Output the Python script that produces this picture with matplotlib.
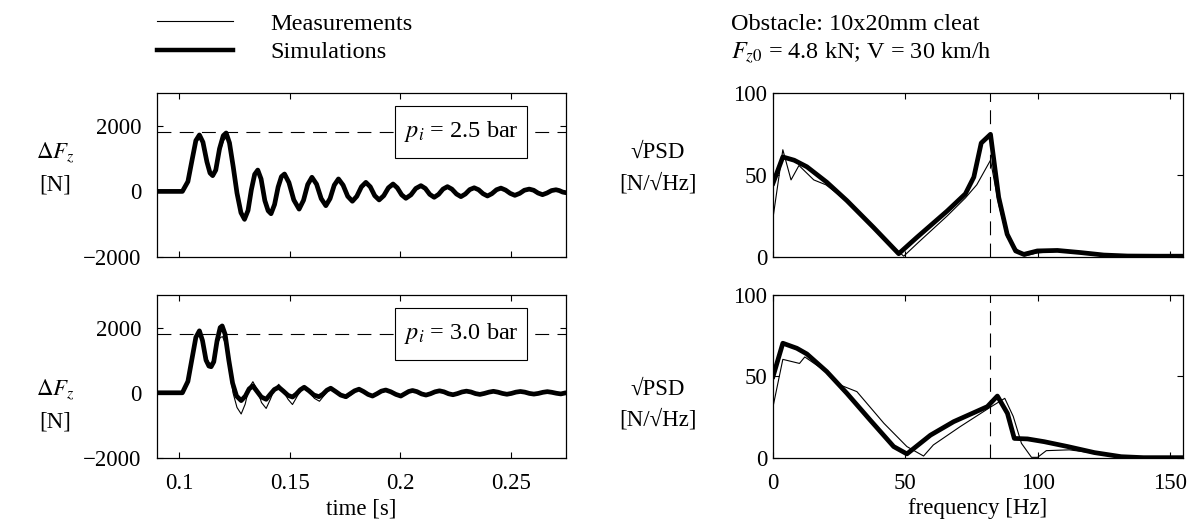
import matplotlib
matplotlib.use("Agg")
import matplotlib.pyplot as plt
from matplotlib.lines import Line2D
from matplotlib.patches import Rectangle

plt.rcParams['font.family'] = ['Liberation Serif', 'DejaVu Serif']
plt.rcParams['mathtext.fontset'] = 'stix'
plt.rcParams['font.size'] = 16.5
plt.rcParams['lines.scale_dashes'] = False

# ---- time signals, pi = 2.5 bar ----
t_sim_25 = [0.0900, 0.1015, 0.1040, 0.1060, 0.1076, 0.1092, 0.1108, 0.1126, 0.1140, 0.1152,
            0.1166, 0.1183, 0.1200, 0.1213, 0.1228, 0.1245, 0.1262, 0.1280, 0.1296, 0.1312,
            0.1327, 0.1342, 0.1356, 0.1371, 0.1388, 0.1403, 0.1416, 0.1432, 0.1448, 0.1463,
            0.1477, 0.1497, 0.1519, 0.1543, 0.1563, 0.1582, 0.1601, 0.1622, 0.1643, 0.1664,
            0.1683, 0.1702, 0.1721, 0.1742, 0.1763, 0.1784, 0.1804, 0.1825, 0.1845, 0.1865,
            0.1885, 0.1905, 0.1926, 0.1947, 0.1968, 0.1987, 0.2007, 0.2026, 0.2049, 0.2071,
            0.2094, 0.2114, 0.2134, 0.2154, 0.2174, 0.2194, 0.2214, 0.2234, 0.2255, 0.2275,
            0.2295, 0.2315, 0.2335, 0.2355, 0.2375, 0.2395, 0.2415, 0.2436, 0.2456, 0.2477,
            0.2498, 0.2519, 0.2541, 0.2562, 0.2584, 0.2604, 0.2624, 0.2644, 0.2664, 0.2685,
            0.2705, 0.2720, 0.2735, 0.2750]
f_sim_25 = [0, 0, 300, 1000, 1550, 1720, 1500, 900, 560, 480,
            650, 1300, 1700, 1780, 1480, 750, -50, -650, -850, -580,
            50, 520, 650, 380, -280, -590, -680, -400, 130, 450,
            530, 270, -260, -540, -270, 210, 430, 220, -220, -435,
            -220, 190, 380, 190, -150, -300, -150, 140, 275, 140,
            -130, -260, -130, 110, 225, 110, -105, -210, -105, 90,
            175, 90, -90, -180, -90, 70, 145, 70, -80, -160,
            -80, 55, 110, 50, -70, -140, -70, 50, 100, 40,
            -60, -120, -60, 35, 70, 35, -50, -100, -50, 25,
            50, 25, -20, -40]

t_meas_25 = [0.0900, 0.1018, 0.1042, 0.1062, 0.1078, 0.1094, 0.1110, 0.1127, 0.1141, 0.1153,
             0.1167, 0.1184, 0.1201, 0.1215, 0.1230, 0.1247, 0.1264, 0.1282, 0.1298, 0.1314,
             0.1329, 0.1344, 0.1358, 0.1373, 0.1390, 0.1405, 0.1418, 0.1434, 0.1450, 0.1465,
             0.1479, 0.1499, 0.1521, 0.1545, 0.1565, 0.1584, 0.1603, 0.1624, 0.1645, 0.1666,
             0.1685, 0.1704, 0.1723, 0.1744, 0.1765, 0.1786, 0.1806, 0.1827, 0.1847, 0.1867,
             0.1887, 0.1907, 0.1928, 0.1949, 0.1970, 0.1989, 0.2009, 0.2028, 0.2051, 0.2073,
             0.2096, 0.2116, 0.2136, 0.2156, 0.2176, 0.2196, 0.2216, 0.2236, 0.2257, 0.2277,
             0.2297, 0.2317, 0.2337, 0.2357, 0.2377, 0.2397, 0.2417, 0.2438, 0.2458, 0.2479,
             0.2500, 0.2521, 0.2543, 0.2564, 0.2586, 0.2606, 0.2626, 0.2646, 0.2666, 0.2687,
             0.2707, 0.2722, 0.2737, 0.2750]
f_meas_25 = [0, 0, 300, 1000, 1500, 1650, 1450, 900, 580, 500,
             650, 1200, 1550, 1650, 1450, 750, -100, -720, -900, -600,
             50, 500, 620, 360, -280, -600, -700, -400, 120, 430,
             500, 250, -270, -560, -280, 190, 390, 200, -230, -450,
             -230, 160, 330, 160, -160, -320, -160, 110, 230, 110,
             -140, -280, -140, 80, 170, 80, -110, -230, -115, 60,
             130, 60, -95, -190, -95, 45, 100, 45, -85, -170,
             -85, 35, 70, 30, -75, -150, -75, 25, 60, 20,
             -65, -130, -65, 15, 40, 15, -55, -110, -55, 10,
             25, 0, -30, -50]

# ---- time signals, pi = 3.0 bar ----
t_sim_30 = [0.0900, 0.1015, 0.1040, 0.1060, 0.1076, 0.1092, 0.1106, 0.1122, 0.1135, 0.1145,
            0.1157, 0.1172, 0.1186, 0.1195, 0.1208, 0.1225, 0.1242, 0.1260, 0.1281, 0.1300,
            0.1317, 0.1334, 0.1352, 0.1372, 0.1394, 0.1412, 0.1431, 0.1451, 0.1472, 0.1493,
            0.1513, 0.1530, 0.1548, 0.1566, 0.1588, 0.1610, 0.1633, 0.1651, 0.1669, 0.1686,
            0.1708, 0.1731, 0.1754, 0.1774, 0.1794, 0.1814, 0.1834, 0.1855, 0.1875, 0.1895,
            0.1915, 0.1935, 0.1958, 0.1981, 0.2003, 0.2021, 0.2039, 0.2056, 0.2076, 0.2097,
            0.2117, 0.2137, 0.2158, 0.2178, 0.2198, 0.2219, 0.2239, 0.2259, 0.2280, 0.2300,
            0.2320, 0.2341, 0.2361, 0.2381, 0.2402, 0.2422, 0.2442, 0.2463, 0.2483, 0.2503,
            0.2524, 0.2544, 0.2564, 0.2585, 0.2605, 0.2625, 0.2646, 0.2666, 0.2686, 0.2707,
            0.2727, 0.2750]
f_sim_30 = [0, 0, 350, 1100, 1700, 1900, 1600, 1000, 820, 800,
            950, 1600, 2000, 2050, 1800, 1000, 300, -100, -240, -100,
            120, 210, 50, -130, -200, -50, 100, 170, 50, -80,
            -130, -40, 90, 170, 60, -70, -120, -40, 80, 140,
            40, -70, -120, -30, 60, 110, 40, -50, -100, -30,
            50, 85, 30, -50, -100, -30, 40, 70, 35, -35,
            -70, -30, 30, 60, 30, -30, -60, -25, 25, 50,
            25, -25, -50, -20, 20, 45, 20, -20, -45, -20,
            20, 40, 20, -20, -40, -20, 15, 35, 15, -15,
            -35, 0]

t_meas_30 = [0.0900, 0.1018, 0.1042, 0.1062, 0.1078, 0.1093, 0.1107, 0.1122, 0.1135, 0.1146,
             0.1158, 0.1173, 0.1187, 0.1197, 0.1210, 0.1227, 0.1244, 0.1262, 0.1281, 0.1299,
             0.1316, 0.1334, 0.1353, 0.1373, 0.1394, 0.1413, 0.1432, 0.1451, 0.1472, 0.1493,
             0.1513, 0.1531, 0.1549, 0.1568, 0.1590, 0.1612, 0.1635, 0.1653, 0.1671, 0.1689,
             0.1711, 0.1734, 0.1757, 0.1777, 0.1797, 0.1817, 0.1837, 0.1858, 0.1878, 0.1898,
             0.1918, 0.1938, 0.1961, 0.1984, 0.2006, 0.2024, 0.2042, 0.2059, 0.2080, 0.2100,
             0.2120, 0.2140, 0.2160, 0.2181, 0.2201, 0.2221, 0.2242, 0.2262, 0.2282, 0.2303,
             0.2323, 0.2343, 0.2364, 0.2384, 0.2404, 0.2425, 0.2445, 0.2465, 0.2486, 0.2506,
             0.2526, 0.2547, 0.2567, 0.2587, 0.2608, 0.2628, 0.2648, 0.2669, 0.2689, 0.2709,
             0.2730, 0.2750]
f_meas_30 = [0, -20, 300, 1050, 1650, 1850, 1600, 1100, 920, 900,
             1050, 1500, 1700, 1720, 1500, 800, 0, -450, -650, -350,
             150, 340, 100, -300, -480, -200, 120, 260, 50, -200,
             -360, -150, 80, 180, 20, -170, -260, -110, 50, 120,
             10, -110, -170, -70, 40, 90, 10, -80, -130, -50,
             30, 70, 10, -70, -110, -40, 30, 55, 0, -50,
             -80, -30, 20, 40, 0, -40, -60, -20, 20, 35,
             0, -30, -50, -15, 15, 30, 0, -25, -40, -10,
             15, 25, 0, -20, -35, -10, 15, 25, 0, -20,
             -30, -10]

# ---- sqrt PSD, pi = 2.5 bar ----
hz_sim_25 = [0, 3.7, 8, 12.8, 20.3, 27.9, 38, 47.5, 54.4, 65.8, 72.7, 75.9, 78.7, 82.2,
             85.3, 88.5, 91.7, 94.8, 99.9, 107.5, 116.3, 125, 134, 145, 155]
psd_sim_25 = [45, 61, 59, 55, 45.6, 34.4, 18, 2, 12, 28, 38.5, 48.7, 69.5, 74.8,
              36.4, 13.9, 3.7, 1.6, 3.7, 4, 2.7, 1.2, 0.6, 0.5, 0.5]
hz_meas_25 = [0, 3.7, 6.8, 9.8, 15.4, 20, 27.9, 38, 49.4, 55, 65.8, 72.7, 77, 82.2,
              85.3, 88.5, 91.7, 95, 99.9, 107.5, 116.3, 125, 134, 145, 155]
psd_meas_25 = [24, 65.4, 47, 55.8, 47, 44, 34, 17, 0.5, 9, 25, 36, 44, 59,
               32, 12, 5.5, 0.5, 2.5, 3.5, 2.5, 1, 0.5, 0.4, 0.3]

# ---- sqrt PSD, pi = 3.0 bar ----
hz_sim_30 = [0, 3.7, 9, 12.8, 20.3, 27.9, 36.7, 45.6, 50.6, 59.5, 68.3, 81, 84.8,
             88.6, 91.2, 96.2, 102.5, 111.4, 121.5, 131.6, 140, 155]
psd_sim_30 = [50, 70.4, 67.3, 63.8, 53, 39.7, 23.3, 7, 2.5, 14, 22.3, 31.5, 38,
              27.4, 12, 11.7, 10, 7, 3.3, 0.8, 0.2, 0.2]
hz_meas_30 = [0, 3.7, 10, 12, 20, 25, 31.7, 41.9, 50.6, 56.9, 60.6, 70.7, 82, 87.6,
              90.8, 93.9, 97.7, 100, 103.3, 112, 120, 131.6, 155]
psd_meas_30 = [31.5, 60.5, 58, 62, 53, 45, 40.7, 21.3, 7, 1.2, 8, 19.2, 31, 36.6,
               25.5, 9, 0.4, 0.4, 4.5, 5, 3.3, 0.8, 0.2]

pressures = ['2.5', '3.0']
force_ref = 1800      # dashed reference level [N]
freq_ref = 82         # dashed reference frequency [Hz]

fig = plt.figure(figsize=(12, 5.31), dpi=100)
ax_tl = fig.add_axes([0.1308, 0.516, 0.3408, 0.3089])
ax_bl = fig.add_axes([0.1308, 0.1375, 0.3408, 0.307])
ax_tr = fig.add_axes([0.6442, 0.516, 0.3417, 0.3089])
ax_br = fig.add_axes([0.6442, 0.1375, 0.3417, 0.307])

dash = (0, (10, 6))
thin = 0.8
thick = 3.4

for ax, ts, fs, tm, fm, p in [(ax_tl, t_sim_25, f_sim_25, t_meas_25, f_meas_25, pressures[0]),
                              (ax_bl, t_sim_30, f_sim_30, t_meas_30, f_meas_30, pressures[1])]:
    ax.axhline(force_ref, color='black', lw=0.8, ls=dash, zorder=1)
    ax.plot(tm, fm, color='black', lw=thin, zorder=3)
    ax.plot(ts, fs, color='black', lw=thick, zorder=2, solid_joinstyle='round',
            solid_capstyle='round')
    ax.set_xlim(0.09, 0.275)
    ax.set_ylim(-2000, 3000)
    ax.set_xticks([0.1, 0.15, 0.2, 0.25])
    ax.set_xticklabels(['0.1', '0.15', '0.2', '0.25'])
    ax.set_yticks([-2000, 0, 2000])
    ax.tick_params(axis='y', pad=11)
    # annotation box covering the dashed line
    ax.add_patch(Rectangle((0.582, 0.604), 0.3227, 0.317, transform=ax.transAxes,
                           fc='white', ec='black', lw=0.8, zorder=4))
    ax.text(0.7434, 0.7625, r'$p_i$' + ' = ' + p + ' bar', transform=ax.transAxes,
            ha='center', va='center', fontsize=17.5, zorder=5)

for ax, hs, ps, hm, pm in [(ax_tr, hz_sim_25, psd_sim_25, hz_meas_25, psd_meas_25),
                           (ax_br, hz_sim_30, psd_sim_30, hz_meas_30, psd_meas_30)]:
    ax.axvline(freq_ref, color='black', lw=0.8, ls=dash, zorder=1)
    ax.plot(hm, pm, color='black', lw=thin, zorder=3)
    ax.plot(hs, ps, color='black', lw=thick, zorder=2, solid_joinstyle='round')
    ax.set_xlim(0, 155)
    ax.set_ylim(0, 100)
    ax.set_xticks([0, 50, 100, 150])
    ax.set_yticks([0, 50, 100])
    ax.tick_params(axis='y', pad=4)

for ax in [ax_tl, ax_bl, ax_tr, ax_br]:
    ax.tick_params(direction='in', top=True, right=True, length=4, width=0.8,
                   labelsize=16.5)
    ax.tick_params(axis='x', pad=11)
    for s in ax.spines.values():
        s.set_linewidth(0.9)

ax_tl.set_xticklabels([])
ax_tr.set_xticklabels([])

ax_bl.set_xlabel('time [s]', fontsize=16.5, labelpad=3)
ax_br.set_xlabel('frequency [Hz]', fontsize=16.5, labelpad=3)

# y labels
for y in [0.684, 0.238]:
    fig.text(0.046, y, r'$\Delta F_z$' + '\n[N]', ha='center', va='center',
             fontsize=16.5, linespacing=1.6)
    fig.text(0.548, y, '\u221aPSD\n[N/\u221aHz]', ha='center', va='center',
             fontsize=16.5, linespacing=1.6)

# legend
fig.add_artist(Line2D([0.131, 0.194], [1 - 20.7 / 531] * 2, color='black', lw=thin))
fig.add_artist(Line2D([0.131, 0.194], [1 - 50 / 531] * 2, color='black', lw=3.2))
fig.text(0.2255, 1 - 25 / 531, 'Measurements', ha='left', va='center', fontsize=17.5)
fig.text(0.2255, 1 - 53 / 531, 'Simulations', ha='left', va='center', fontsize=17.5)

# test conditions
fig.text(0.609, 1 - 25 / 531, 'Obstacle: 10x20mm cleat', ha='left', va='center', fontsize=17.5)
fig.text(0.609, 1 - 53 / 531, r'$F_{z0}$' + ' = 4.8 kN; V = 30 km/h', ha='left',
         va='center', fontsize=17.5)

fig.savefig('out.png', dpi=100)
